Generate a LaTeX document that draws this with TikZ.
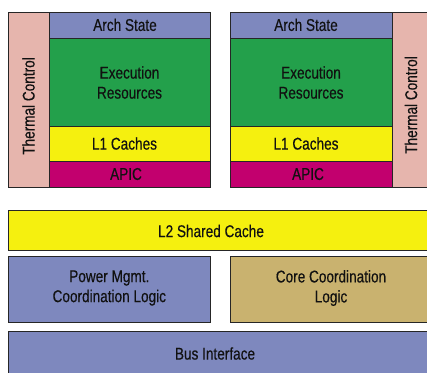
\documentclass[tikz,border=0pt]{standalone}
\usepackage{fontspec}
\setmainfont{Liberation Sans}[FakeStretch=0.8,FakeBold=0.4]
\definecolor{edge}{HTML}{262626}
\definecolor{txt}{HTML}{111111}
\definecolor{archc}{HTML}{7E88BE}
\definecolor{exec}{HTML}{23A04B}
\definecolor{yel}{HTML}{F5F00F}
\definecolor{mag}{HTML}{C2006E}
\definecolor{pinkc}{HTML}{E6B5AD}
\definecolor{tanc}{HTML}{C9B26F}
\begin{document}
\begin{tikzpicture}[x=1pt,y=-1pt,
  box/.style={draw=edge, line width=1pt, inner sep=0pt, anchor=north west, rectangle},
  lbl/.style={font=\fontsize{17}{20}\selectfont, text=txt, align=center, inner sep=0pt}]
\useasboundingbox (0,0) rectangle (427,372);
\clip (0,0) rectangle (427,372);
% left core
\node[box, fill=pinkc, minimum width=40.7pt, minimum height=175.3pt] (thL) at (8,11.7) {};
\node[box, fill=archc, minimum width=160.8pt, minimum height=26.3pt] (archL) at (48.7,11.7) {};
\node[box, fill=exec, minimum width=160.8pt, minimum height=87.7pt] (exeL) at (48.7,38) {};
\node[box, fill=yel, minimum width=160.8pt, minimum height=35pt] (l1L) at (48.7,125.7) {};
\node[box, fill=mag, minimum width=160.8pt, minimum height=26.3pt] (apicL) at (48.7,160.7) {};
% right core
\node[box, fill=archc, minimum width=161.7pt, minimum height=26.3pt] (archR) at (230,11.7) {};
\node[box, fill=exec, minimum width=161.7pt, minimum height=87.7pt] (exeR) at (230,38) {};
\node[box, fill=yel, minimum width=161.7pt, minimum height=35pt] (l1R) at (230,125.7) {};
\node[box, fill=mag, minimum width=161.7pt, minimum height=26.3pt] (apicR) at (230,160.7) {};
\node[box, fill=pinkc, minimum width=45pt, minimum height=175.3pt] (thR) at (391.7,11.7) {};
% shared
\node[box, fill=yel, minimum width=440pt, minimum height=39.2pt] (l2) at (8,210.3) {};
\node[box, fill=archc, minimum width=202pt, minimum height=65.7pt] (pm) at (8,256) {};
\node[box, fill=tanc, minimum width=210pt, minimum height=65.7pt] (cc) at (230,256) {};
\node[box, fill=archc, minimum width=440pt, minimum height=60pt] (bus) at (8,330.7) {};
% labels
\node[lbl] (tArchL) at (125,24.8) {Arch State};
\node[lbl] (tExeL) at (129.5,82.5) {Execution\\Resources};
\node[lbl] (tL1L) at (124.5,143.5) {L1 Caches};
\node[lbl] (tApicL) at (126,174) {APIC};
\node[lbl, rotate=90] (tThL) at (28.5,106) {Thermal Control};
\node[lbl] (tArchR) at (306,24.8) {Arch State};
\node[lbl] (tExeR) at (311,82.5) {Execution\\Resources};
\node[lbl] (tL1R) at (306,143.5) {L1 Caches};
\node[lbl] (tApicR) at (308,174) {APIC};
\node[lbl, rotate=90] (tThR) at (411,105) {Thermal Control};
\node[lbl] (tL2) at (211,231) {L2 Shared Cache};
\node[lbl] (tPm) at (109.3,288) {Power Mgmt.\\Coordination Logic};
\node[lbl] (tCc) at (331,288) {Core Coordination\\Logic};
\node[lbl] (tBus) at (215,353.5) {Bus Interface};
\end{tikzpicture}
\end{document}
